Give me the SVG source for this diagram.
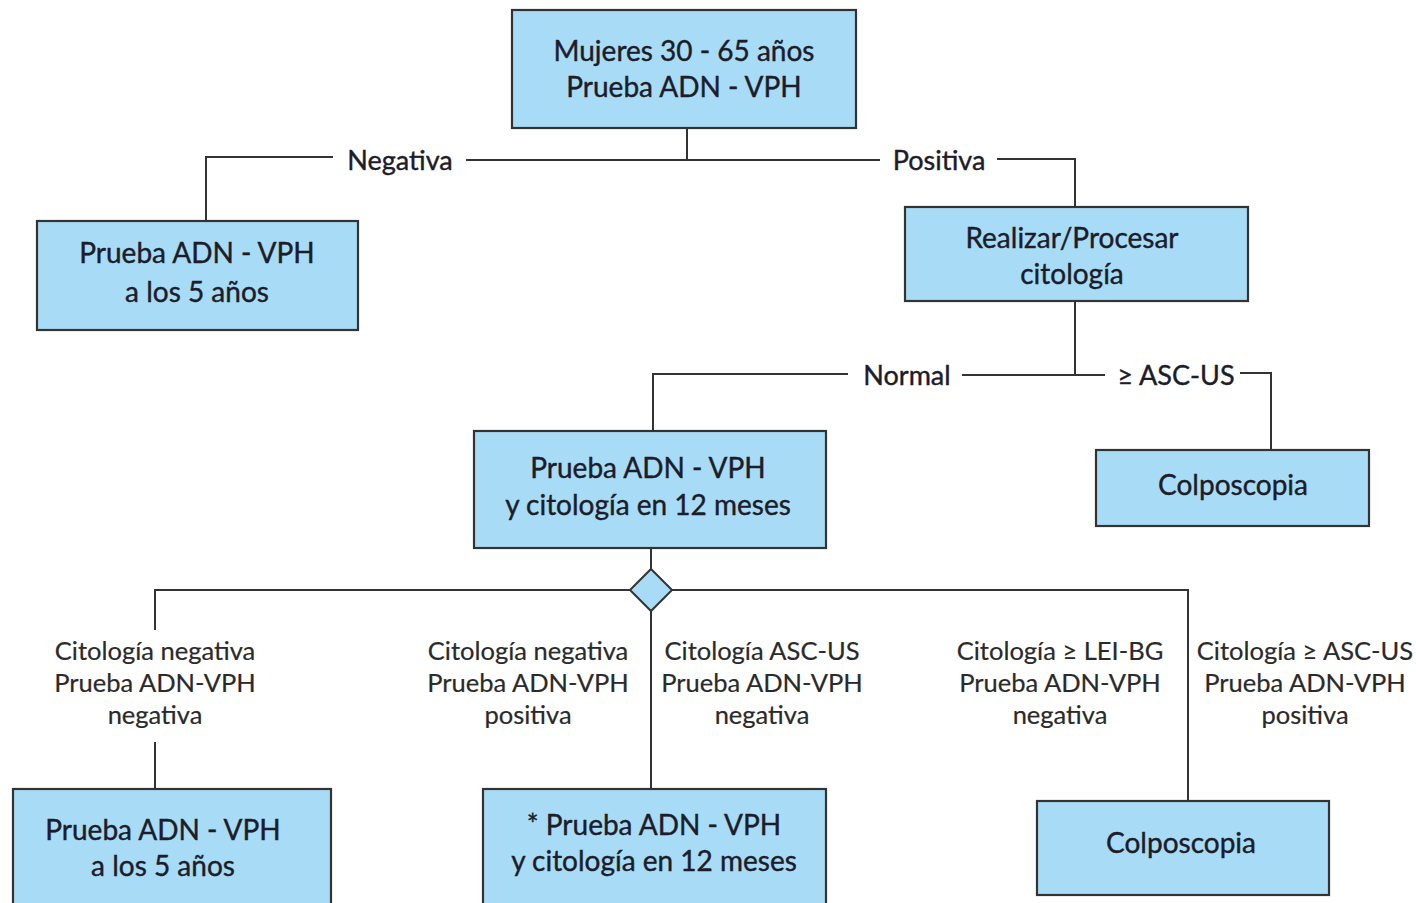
<svg xmlns="http://www.w3.org/2000/svg" width="1416" height="903" viewBox="0 0 1416 903">
  <style>
    .box { fill: #a8dcf6; stroke: #333; stroke-width: 2.2; }
    .big { font-family: Lato, "Open Sans", sans-serif; font-size: 28px; fill: #1c1c2a; stroke: #1c1c2a; stroke-width: 0.4; text-anchor: middle; }
    .lbl { font-family: Lato, "Open Sans", sans-serif; font-size: 27px; fill: #1c1c2a; stroke: #1c1c2a; stroke-width: 0.4; text-anchor: middle; }
    .sm { font-family: Lato, "Open Sans", sans-serif; font-size: 25.5px; fill: #2a2a2a; stroke: #2a2a2a; stroke-width: 0.2; text-anchor: middle; }
    .ln { fill: none; stroke: #333; stroke-width: 2; }
  </style>
  <rect width="1416" height="903" fill="#fff"/>

  <g id="connectors">
    <path class="ln" d="M687 128 V160 M466 160 H880"/>
    <path class="ln" d="M333 157 H206 V221"/>
    <path class="ln" d="M997 159 H1075 V207"/>
    <path class="ln" d="M1075 301 V375 M962 375 H1105"/>
    <path class="ln" d="M848 374 H653 V431"/>
    <path class="ln" d="M1240 373 H1271 V450"/>
    <path class="ln" d="M651 548 V570"/>
    <path class="ln" d="M155 630 V590 H630 M672 590 H1188 V801"/>
    <path class="ln" d="M155 742 V789"/>
    <path class="ln" d="M651 611 V789"/>
    <polygon points="651,569 672,590 651,611 630,590" fill="#a8dcf6" stroke="#333" stroke-width="2"/>
  </g>

  <g id="n-inicio">
    <rect class="box" x="512" y="10" width="344" height="118"/>
    <text class="big" x="684" y="61">Mujeres 30 - 65 años</text>
    <text class="big" x="684" y="97">Prueba ADN - VPH</text>
  </g>

  <g id="lbl-negativa"><text class="lbl" x="400" y="170">Negativa</text></g>
  <g id="lbl-positiva"><text class="lbl" x="939" y="170">Positiva</text></g>

  <g id="n-vph5">
    <rect class="box" x="37" y="221" width="321" height="109"/>
    <text class="big" x="197" y="263">Prueba ADN - VPH</text>
    <text class="big" x="197" y="302">a los 5 años</text>
  </g>

  <g id="n-citologia">
    <rect class="box" x="905" y="207" width="343" height="94"/>
    <text class="big" x="1072" y="248">Realizar/Procesar</text>
    <text class="big" x="1072" y="284">citología</text>
  </g>

  <g id="lbl-normal"><text class="lbl" x="907" y="385">Normal</text></g>
  <g id="lbl-ascus"><text class="lbl" x="1176" y="385">≥ ASC-US</text></g>

  <g id="n-vph12">
    <rect class="box" x="474" y="431" width="352" height="117"/>
    <text class="big" x="648" y="478">Prueba ADN - VPH</text>
    <text class="big" x="648" y="515">y citología en 12 meses</text>
  </g>

  <g id="n-colpo1">
    <rect class="box" x="1096" y="450" width="273" height="76"/>
    <text class="big" x="1233" y="495">Colposcopia</text>
  </g>

  <g id="lbl-c1">
    <text class="sm" x="155" y="660">Citología negativa</text>
    <text class="sm" x="155" y="692">Prueba ADN-VPH</text>
    <text class="sm" x="155" y="724">negativa</text>
  </g>
  <g id="lbl-c2">
    <text class="sm" x="528" y="660">Citología negativa</text>
    <text class="sm" x="528" y="692">Prueba ADN-VPH</text>
    <text class="sm" x="528" y="724">positiva</text>
  </g>
  <g id="lbl-c3">
    <text class="sm" x="762" y="660">Citología ASC-US</text>
    <text class="sm" x="762" y="692">Prueba ADN-VPH</text>
    <text class="sm" x="762" y="724">negativa</text>
  </g>
  <g id="lbl-c4">
    <text class="sm" x="1060" y="660">Citología ≥ LEI-BG</text>
    <text class="sm" x="1060" y="692">Prueba ADN-VPH</text>
    <text class="sm" x="1060" y="724">negativa</text>
  </g>
  <g id="lbl-c5">
    <text class="sm" x="1305" y="660">Citología ≥ ASC-US</text>
    <text class="sm" x="1305" y="692">Prueba ADN-VPH</text>
    <text class="sm" x="1305" y="724">positiva</text>
  </g>

  <g id="n-vph5b">
    <rect class="box" x="13" y="789" width="318" height="130"/>
    <text class="big" x="163" y="840">Prueba ADN - VPH</text>
    <text class="big" x="163" y="876">a los 5 años</text>
  </g>

  <g id="n-vph12b">
    <rect class="box" x="483" y="789" width="343" height="130"/>
    <text class="big" x="654" y="835">* Prueba ADN - VPH</text>
    <text class="big" x="654" y="871">y citología en 12 meses</text>
  </g>

  <g id="n-colpo2">
    <rect class="box" x="1037" y="801" width="292" height="94"/>
    <text class="big" x="1181" y="853">Colposcopia</text>
  </g>
</svg>
